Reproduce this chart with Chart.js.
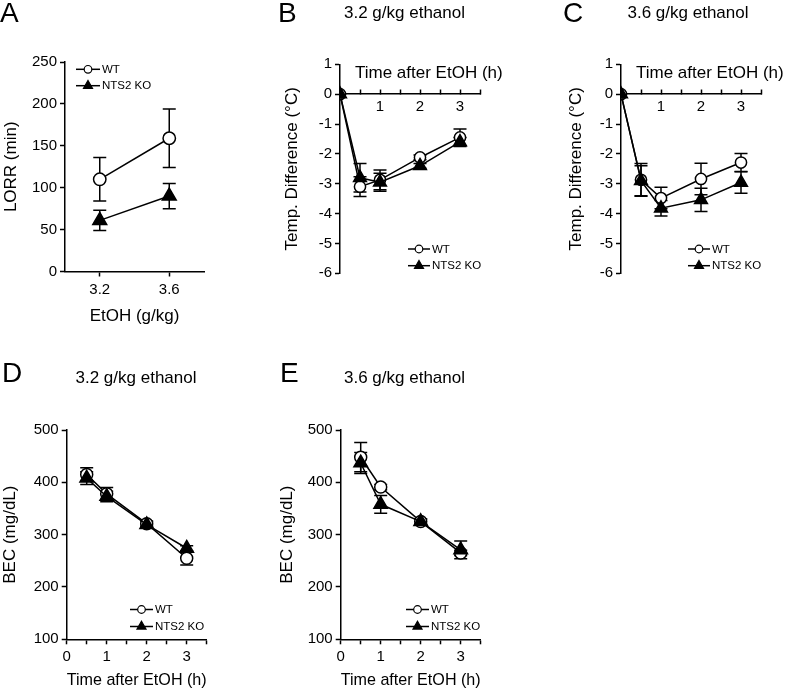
<!DOCTYPE html>
<html>
<head>
<meta charset="utf-8">
<script src="https://cdn.jsdelivr.net/npm/chart.js@4"></script>
<style>
  html, body { margin: 0; padding: 0; background: #fff; }
  #wrap { position: relative; width: 786px; height: 692px; overflow: hidden; }
  canvas { position: absolute; left: 0; top: 0; }
</style>
</head>
<body>
<div id="wrap">
  <canvas id="chartA" width="786" height="692"></canvas>
  <canvas id="chartB" width="786" height="692"></canvas>
  <canvas id="chartC" width="786" height="692"></canvas>
  <canvas id="chartD" width="786" height="692"></canvas>
  <canvas id="chartE" width="786" height="692"></canvas>
</div>
<script>
// A: loss of righting reflex
var doses = [3.2, 3.6];
var lorrWT = [110, 159];
var lorrWTErr = [26, 35];
var lorrKO = [61, 90];
var lorrKOErr = [12, 15];

// B, C: body temperature change
var tempTimes = [0, 0.5, 1, 2, 3];
var temp32WT = [0, -3.1, -2.87, -2.12, -1.45];
var temp32WTErr = [0, 0.33, 0.33, 0.08, 0.28];
var temp32KO = [0, -2.8, -2.95, -2.4, -1.6];
var temp32KOErr = [0, 0.48, 0.3, 0.08, 0.15];
var temp36WT = [0, -2.87, -3.48, -2.84, -2.29];
var temp36WTErr = [0, 0.55, 0.36, 0.53, 0.3];
var temp36KO = [0, -2.9, -3.82, -3.54, -2.96];
var temp36KOErr = [0, 0.5, 0.26, 0.39, 0.36];

// D, E: blood ethanol concentration
var becTimes = [0.5, 1, 2, 3];
var bec32WT = [415, 378, 321, 255];
var bec32WTErr = [13, 12, 5, 13];
var bec32KO = [408, 373, 319, 274];
var bec32KOErr = [12, 10, 5, 5];
var bec36WT = [448, 391, 325, 265];
var bec36WTErr = [28, 5, 5, 5];
var bec36KO = [437, 358, 325, 271];
var bec36KOErr = [20, 17, 5, 17];

var groupNames = ['WT', 'NTS2 KO'];
var FONT = '"Liberation Sans", Arial, sans-serif';

Chart.defaults.font.family = FONT;
Chart.defaults.color = '#000';

var errorBars = {
  id: 'errorBars',
  beforeDatasetsDraw: function (chart) {
    var ctx = chart.ctx, ys = chart.scales.y;
    ctx.save();
    ctx.strokeStyle = '#000';
    ctx.lineWidth = 1.5;
    chart.data.datasets.forEach(function (ds, i) {
      var meta = chart.getDatasetMeta(i);
      ds.data.forEach(function (p, j) {
        var e = ds.errors[j];
        if (!e) return;
        var x = meta.data[j].x;
        var top = ys.getPixelForValue(p.y + e), bot = ys.getPixelForValue(p.y - e);
        ctx.beginPath();
        ctx.moveTo(x, top); ctx.lineTo(x, bot);
        ctx.moveTo(x - 6.5, top); ctx.lineTo(x + 6.5, top);
        ctx.moveTo(x - 6.5, bot); ctx.lineTo(x + 6.5, bot);
        ctx.stroke();
      });
    });
    ctx.restore();
  }
};

var lineLegend = {
  id: 'lineLegend',
  afterDraw: function (chart, args, o) {
    var ctx = chart.ctx, a = chart.chartArea;
    var x0 = a.left + o.dx, y0 = a.top + o.dy;
    chart.data.datasets.forEach(function (ds, i) {
      var y = y0 + i * o.gap;
      ctx.save();
      ctx.strokeStyle = '#000';
      ctx.lineWidth = 1.5;
      ctx.beginPath();
      ctx.moveTo(x0, y); ctx.lineTo(x0 + o.len, y);
      ctx.stroke();
      ctx.fillStyle = ds.pointBackgroundColor;
      ctx.lineWidth = 1.2;
      Chart.helpers.drawPoint(ctx, {
        pointStyle: ds.pointStyle,
        radius: ds.pointStyle === 'triangle' ? 5.2 : 3.8,
        borderWidth: 1.2, rotation: 0
      }, x0 + o.len / 2, y);
      ctx.fillStyle = '#000';
      ctx.font = '11.5px ' + FONT;
      ctx.textBaseline = 'middle';
      ctx.textAlign = 'left';
      ctx.fillText(ds.label, x0 + o.len + 2, y + 0.5);
      ctx.restore();
    });
  }
};

var panelText = {
  id: 'panelText',
  afterDraw: function (chart, args, o) {
    var ctx = chart.ctx;
    ctx.save();
    ctx.fillStyle = '#000';
    ctx.textBaseline = 'alphabetic';
    ctx.textAlign = 'left';
    ctx.font = '28px ' + FONT;
    ctx.fillText(o.letter, o.lx, o.ly);
    if (o.title) {
      ctx.font = '17px ' + FONT;
      ctx.textAlign = 'center';
      ctx.fillText(o.title, o.tx, o.ty);
    }
    if (o.inner) {
      ctx.font = '17px ' + FONT;
      ctx.textAlign = 'left';
      ctx.fillText(o.inner, chart.chartArea.left + 15, chart.scales.y.getPixelForValue(0) - 16.5);
    }
    ctx.restore();
  }
};

Chart.register(errorBars, lineLegend, panelText);

function pts(xs, ys) {
  return xs.map(function (x, i) { return { x: x, y: ys[i] }; });
}

function series(label, xs, ys, errs, isKO, r) {
  return {
    label: label,
    data: pts(xs, ys),
    errors: errs,
    borderColor: '#000',
    borderWidth: 1.5,
    pointStyle: isKO ? 'triangle' : 'circle',
    pointRadius: isKO ? r + 1.8 : r,
    pointHoverRadius: isKO ? r + 1.8 : r,
    pointBackgroundColor: isKO ? '#000' : '#fff',
    pointBorderColor: '#000',
    pointBorderWidth: 1.5,
    order: isKO ? 0 : 1,
    tension: 0,
    fill: false
  };
}

var axisGrid = { display: true, drawOnChartArea: false, drawTicks: true, tickLength: 5, tickWidth: 1.5, tickColor: '#000' };
var axisBorder = { display: true, color: '#000', width: 1.5 };

function yAxis(min, max, step, title, width) {
  return {
    type: 'linear', min: min, max: max,
    ticks: { stepSize: step, font: { size: 15 }, padding: 3, color: '#000' },
    grid: axisGrid,
    border: axisBorder,
    title: { display: true, text: title, font: { size: 17, lineHeight: 1 }, padding: 0, color: '#000' },
    afterFit: function (s) { s.width = width; }
  };
}

function timeAxisBottom(height) {
  return {
    type: 'linear', min: 0, max: 3.5,
    ticks: {
      stepSize: 0.5, autoSkip: false, font: { size: 15 }, padding: 4, color: '#000',
      callback: function (v) { return Number.isInteger(v) ? v : ''; }
    },
    grid: axisGrid,
    border: axisBorder,
    title: { display: true, text: 'Time after EtOH (h)', font: { size: 17, lineHeight: 1 }, padding: 0, color: '#000' },
    afterFit: function (s) { s.height = height; }
  };
}

function timeAxisZero() {
  return {
    type: 'linear', min: 0, max: 3.5, position: { y: 0 },
    ticks: {
      stepSize: 0.5, autoSkip: false, font: { size: 15 }, padding: 8.5, color: '#000',
      callback: function (v) { return (v > 0 && Number.isInteger(v)) ? v : ''; }
    },
    grid: { display: true, drawOnChartArea: false, drawTicks: true, tickLength: -5, tickWidth: 1.5, tickColor: '#000' },
    border: axisBorder
  };
}

function pad(left, top, right, bottom, yW, xH) {
  return { left: left - yW, top: top, right: 786 - right, bottom: 692 - bottom - xH };
}

function makeChart(id, datasets, scales, padding, legend, text) {
  return new Chart(document.getElementById(id), {
    type: 'line',
    data: { datasets: datasets },
    options: {
      responsive: false,
      animation: false,
      devicePixelRatio: 1,
      layout: { padding: padding },
      scales: scales,
      plugins: {
        legend: { display: false },
        tooltip: { enabled: false },
        lineLegend: legend,
        panelText: text
      }
    }
  });
}

// Panel A
makeChart('chartA', [
  series(groupNames[0], doses, lorrWT, lorrWTErr, false, 6.2),
  series(groupNames[1], doses, lorrKO, lorrKOErr, true, 6.2)
], {
  x: {
    type: 'linear', min: 3.0, max: 3.8,
    afterBuildTicks: function (s) { s.ticks = doses.map(function (v) { return { value: v }; }); },
    ticks: { font: { size: 15 }, padding: 4, color: '#000', callback: function (v) { return v.toFixed(1); } },
    grid: axisGrid,
    border: axisBorder,
    title: { display: true, text: 'EtOH (g/kg)', font: { size: 17, lineHeight: 1 }, padding: 0, color: '#000' },
    afterFit: function (s) { s.height = 53; }
  },
  y: yAxis(0, 250, 50, 'LORR (min)', 62)
}, pad(65, 62, 204, 271.5, 62, 53),
{ dx: 11, dy: 7.3, gap: 16.4, len: 24 },
{ letter: 'A', lx: 0, ly: 22 });

// Panel B
makeChart('chartB', [
  series(groupNames[0], tempTimes, temp32WT, temp32WTErr, false, 5.6),
  series(groupNames[1], tempTimes, temp32KO, temp32KOErr, true, 5.6)
], {
  x: timeAxisZero(),
  y: yAxis(-6, 1, 1, 'Temp. Difference (°C)', 56.5)
}, pad(340, 64.3, 480, 273.3, 56.5, 0),
{ dx: 68, dy: 184.7, gap: 16.7, len: 22 },
{ letter: 'B', lx: 278, ly: 22, title: '3.2 g/kg ethanol', tx: 404.5, ty: 18.3, inner: 'Time after EtOH (h)' });

// Panel C
makeChart('chartC', [
  series(groupNames[0], tempTimes, temp36WT, temp36WTErr, false, 5.6),
  series(groupNames[1], tempTimes, temp36KO, temp36KOErr, true, 5.6)
], {
  x: timeAxisZero(),
  y: yAxis(-6, 1, 1, 'Temp. Difference (°C)', 53)
}, pad(621, 64.3, 761, 273.3, 53, 0),
{ dx: 67, dy: 184.7, gap: 16.7, len: 22 },
{ letter: 'C', lx: 563, ly: 22, title: '3.6 g/kg ethanol', tx: 688, ty: 18.3, inner: 'Time after EtOH (h)' });

// Panel D
makeChart('chartD', [
  series(groupNames[0], becTimes, bec32WT, bec32WTErr, false, 6),
  series(groupNames[1], becTimes, bec32KO, bec32KOErr, true, 6)
], {
  x: timeAxisBottom(50),
  y: yAxis(100, 500, 100, 'BEC (mg/dL)', 65)
}, pad(66.7, 430, 206.7, 639.3, 65, 50),
{ dx: 63.3, dy: 179.5, gap: 17, len: 23 },
{ letter: 'D', lx: 2, ly: 382, title: '3.2 g/kg ethanol', tx: 136, ty: 383.3 });

// Panel E
makeChart('chartE', [
  series(groupNames[0], becTimes, bec36WT, bec36WTErr, false, 6),
  series(groupNames[1], becTimes, bec36KO, bec36KOErr, true, 6)
], {
  x: timeAxisBottom(50),
  y: yAxis(100, 500, 100, 'BEC (mg/dL)', 61.5)
}, pad(340.7, 430, 480.7, 639.3, 61.5, 50),
{ dx: 65.3, dy: 179.5, gap: 17, len: 23 },
{ letter: 'E', lx: 280, ly: 382, title: '3.6 g/kg ethanol', tx: 404.5, ty: 383.3 });
</script>
</body>
</html>
